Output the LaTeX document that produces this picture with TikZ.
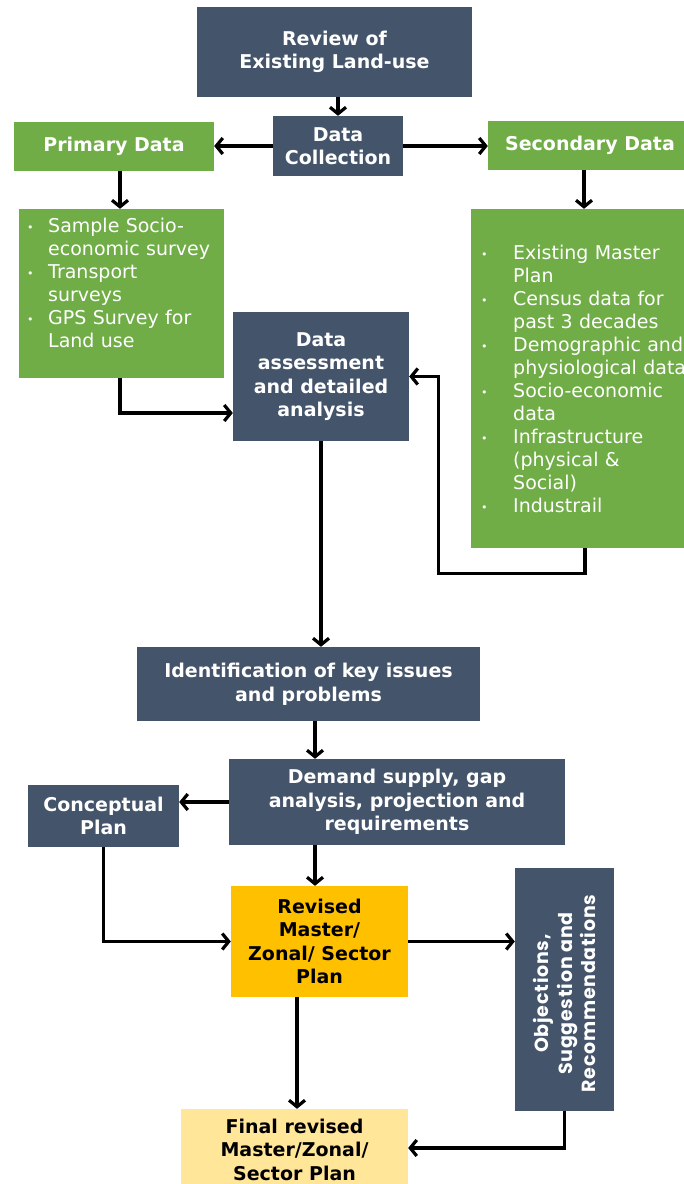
\documentclass[tikz,border=0pt]{standalone}
\usepackage{fontspec}
\setmainfont{DejaVu Sans}
\newfontfamily\popfont{Poppins}[LetterSpace=4]
\usetikzlibrary{arrows.meta}
\definecolor{slate}{HTML}{44546A}
\definecolor{grn}{HTML}{70AD47}
\definecolor{gold}{HTML}{FFC000}
\definecolor{paleyel}{HTML}{FFE699}
\newcommand\bitem[2]{\noindent\hangindent=#1\hangafter=1\makebox[#1][l]{\raisebox{1.5pt}{\fontsize{11}{11}\selectfont •}}#2\par}
\tikzset{
  box/.style={fill=slate, text=white, inner sep=0pt, align=center,
    font=\bfseries\fontsize{19}{23.5}\selectfont},
  gbox/.style={box, fill=grn},
  listtxt/.style={text=white, inner sep=0pt, align=left, anchor=north west,
    font=\fontsize{19}{23}\selectfont},
  arr/.style={line width=3.2pt, -{Straight Barb[length=6.5pt,width=16pt,line width=3.2pt]}}
}
\begin{document}
\begin{tikzpicture}[x=1pt,y=-1pt]
\useasboundingbox (0,0) rectangle (684,1184);
\fill[white] (0,0) rectangle (684,1184);
% boxes
\node[box, minimum width=275, minimum height=90] (review) at (334.5,52) {Review of\\Existing Land-use};
\node[box, minimum width=130, minimum height=60] (dc) at (338,146) {Data\\Collection};
\node[gbox, minimum width=200, minimum height=49] (prim) at (114,146.5) {Primary Data};
\node[gbox, minimum width=204, minimum height=49] (sec) at (590,145.5) {Secondary Data};
\node[gbox, minimum width=205, minimum height=169] (plist) at (121.5,293.5) {};
\node[gbox, minimum width=219, minimum height=339] (slist) at (580.5,378.5) {};
\node[box, minimum width=176, minimum height=129] (da) at (321,376.5) {Data\\assessment\\and detailed\\analysis};
\node[box, minimum width=343, minimum height=74] (ident) at (308.5,684) {Identification of key issues\\and problems};
\node[box, minimum width=336, minimum height=86] (demand) at (397,802) {Demand supply, gap\\analysis, projection and\\requirements};
\node[box, minimum width=151, minimum height=62] (concept) at (103.5,816) {Conceptual\\Plan};
\node[box, fill=gold, text=black, minimum width=177, minimum height=111] (revised) at (319.5,941.5) {Revised\\Master/\\Zonal/ Sector\\Plan};
\node[box, minimum width=99, minimum height=243] (obj) at (564.5,989.5) {};
\node[text=white, inner sep=0pt, align=center, rotate=90, font=\popfont\bfseries\fontsize{19}{23.5}\selectfont] (objtxt) at ([yshift=-4pt]obj.center) {Objections,\\Suggestion and\\Recommendations};
\node[box, fill=paleyel, text=black, minimum width=227, minimum height=81] (final) at (294.5,1149.5) {Final revised\\Master/Zonal/\\Sector Plan};
% list texts
\node[listtxt, text width=400] (ptxt) at (27,218) {%
\bitem{21pt}{Sample Socio-\newline economic survey}%
\bitem{21pt}{Transport\newline surveys}%
\bitem{21pt}{GPS Survey for\newline Land use}};
\node[listtxt, text width=400] (stxt) at (481,245) {%
\bitem{32pt}{Existing Master\newline Plan}%
\bitem{32pt}{Census data for\newline past 3 decades}%
\bitem{32pt}{Demographic and\newline physiological data}%
\bitem{32pt}{Socio-economic\newline data}%
\bitem{32pt}{Infrastructure\newline (physical \&\newline Social)}%
\bitem{32pt}{Industrail}};
% connectors
\draw[arr] (dc.north |- review.south) -- (dc.north);
\draw[arr] (dc.west) -- (dc.west -| prim.east);
\draw[arr] (dc.east) -- (dc.east -| sec.west);
\draw[arr] ([xshift=6pt]prim.south) -- ([xshift=6pt]prim.south |- plist.north);
\draw[arr] ([xshift=-6pt]sec.south) -- ([xshift=-6pt]sec.south |- slist.north);
\draw[arr] ([xshift=-1.5pt]plist.south) |- ([yshift=-36.5pt]da.west);
\coordinate (sbend) at ([xshift=29pt]da.east);
\draw[arr] ([xshift=4.5pt]slist.south) -- ++(0,25) -| (sbend) -- (da.east);
\draw[arr] (da.south) -- (da.south |- ident.north);
\draw[arr] ([xshift=6.5pt]ident.south) -- ([xshift=6.5pt]ident.south |- demand.north);
\draw[arr] (demand.west) -- (demand.west -| concept.east);
\draw[arr] ([xshift=-4.5pt]revised.north |- demand.south) -- ([xshift=-4.5pt]revised.north);
\draw[arr] (concept.south) |- (revised.west);
\draw[arr] (revised.east) -- (revised.east -| obj.west);
\draw[arr] ([xshift=2.5pt]final.north |- revised.south) -- ([xshift=2.5pt]final.north);
\draw[arr] (obj.south) |- ([yshift=1.5pt]final.east);
\end{tikzpicture}
\end{document}
